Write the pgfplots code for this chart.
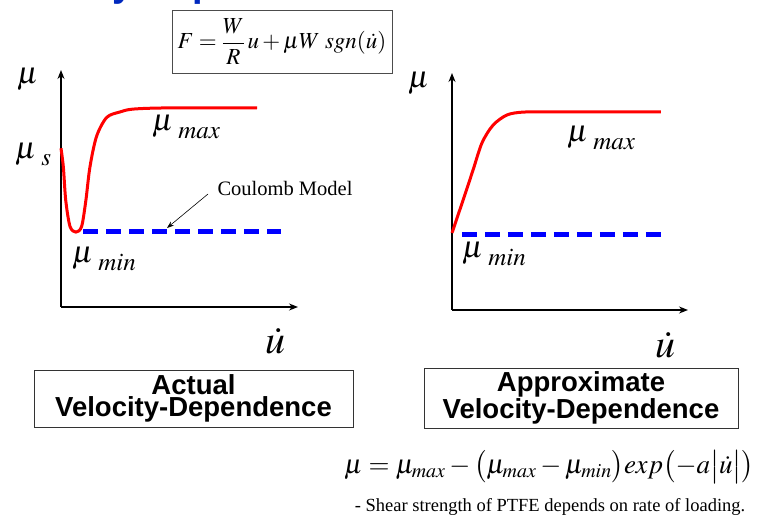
\documentclass[border=0pt]{standalone}
\usepackage{mathptmx}
\usepackage{fontspec}
\setmainfont{Liberation Serif}
\setsansfont{Liberation Sans}
\usepackage{pgfplots}
\pgfplotsset{compat=1.18}
\usetikzlibrary{arrows.meta}
\definecolor{headblue}{RGB}{0,40,190}
\newcommand{\mulab}[2][-8pt]{{\fontsize{31}{31}\selectfont$\mu$}\hspace{5pt}\raisebox{#1}{\fontsize{25}{25}\selectfont$#2$}}
\newcommand{\mubig}{{\fontsize{31}{31}\selectfont$\mu$}}
\newcommand{\udot}{{\fontsize{40}{40}\selectfont$\dot{u}$}}
\begin{document}
\begin{tikzpicture}
\useasboundingbox (0pt,0pt) rectangle (760pt,-518pt);
% cropped heading
\begin{scope}
\clip (0pt,0pt) rectangle (760pt,-7pt);
\node[anchor=base west, inner sep=0pt, text=headblue, font=\sffamily\bfseries\fontsize{38}{38}\selectfont] at (-10pt,3pt) {Velocity Dependence};
\end{scope}
% top formula box
\node[draw=black!70, line width=0.8pt, minimum width=220pt, minimum height=63pt, inner sep=0pt] at (282pt,-41.5pt)
  {\fontsize{23}{26}\selectfont $\displaystyle F=\frac{W}{R}\,u+\mu W\; sgn(\dot{u})$};

% ---------- left chart ----------
\begin{axis}[at={(61pt,-307pt)}, anchor=south west, scale only axis,
  width=237pt, height=237pt, xmin=0, xmax=10, ymin=0, ymax=1,
  axis lines=left, ticks=none, clip=false,
  axis line style={line width=1.3pt, -{Stealth[length=9pt,width=7pt]}}]
\addplot[blue, line width=5pt, dash pattern=on 15pt off 8pt] coordinates {(0.93,0.32) (9.3,0.32)};
\addplot[red, line width=3pt, smooth, tension=0.5] coordinates {
(0,0.67) (0.1,0.59) (0.2,0.45) (0.38,0.34) (0.63,0.316) (0.87,0.34) (1.05,0.45) (1.22,0.59) (1.5,0.72) (1.93,0.80) (2.49,0.823) (3.04,0.835) (4.5,0.84) (8.27,0.84)};
\end{axis}
\node[anchor=base west, inner sep=0pt] at (17pt,-84pt) {\mubig};
\node[anchor=base west, inner sep=0pt] at (15pt,-159pt) {\mulab[-7pt]{s}};
\node[anchor=base west, inner sep=0pt] at (152pt,-131pt) {\mulab{max}};
\node[anchor=base west, inner sep=0pt] at (72pt,-263pt) {\mulab{min}};
\node[anchor=center, inner sep=0pt, font=\fontsize{20.5}{20.5}\selectfont] at (285pt,-188pt) {Coulomb Model};
\draw[line width=0.6pt, -{Stealth[length=7pt,width=5pt]}] (208pt,-194pt) -- (167pt,-228pt);
\node[anchor=base west, inner sep=0pt] at (265pt,-354pt) {\udot};

% ---------- right chart ----------
\begin{axis}[at={(452pt,-310pt)}, anchor=south west, scale only axis,
  width=236pt, height=237pt, xmin=0, xmax=10, ymin=0, ymax=1,
  axis lines=left, ticks=none, clip=false,
  axis line style={line width=1.3pt, -{Stealth[length=9pt,width=7pt]}}]
\addplot[blue, line width=5pt, dash pattern=on 15pt off 8pt] coordinates {(0.42,0.32) (9.1,0.32)};
\addplot[red, line width=3pt, smooth, tension=0.5] coordinates {
(0,0.325) (0.47,0.464) (0.89,0.59) (1.27,0.705) (1.74,0.78) (2.33,0.823) (3.0,0.835) (4.0,0.836) (8.85,0.836)};
\end{axis}
\node[anchor=base west, inner sep=0pt] at (408pt,-88pt) {\mubig};
\node[anchor=base west, inner sep=0pt] at (567pt,-142pt) {\mulab{max}};
\node[anchor=base west, inner sep=0pt] at (462pt,-258pt) {\mulab{min}};
\node[anchor=base west, inner sep=0pt] at (655pt,-358pt) {\udot};

% ---------- caption boxes ----------
\node[draw=black!80, line width=0.8pt, minimum width=319pt, minimum height=57pt, inner sep=0pt, align=center,
  font=\sffamily\bfseries\fontsize{27.5}{22}\selectfont] at (193.5pt,-398.5pt) {Actual\\Velocity-Dependence};
\node[draw=black!80, line width=0.8pt, minimum width=314pt, minimum height=60pt, inner sep=0pt, align=center,
  font=\sffamily\bfseries\fontsize{27.5}{22}\selectfont] at (581pt,-398pt) {Approximate\\Velocity-Dependence};

% ---------- bottom formula ----------
\node[inner sep=0pt] at (549pt,-467pt) {\fontsize{27}{30}\selectfont
  $\mu=\mu_{max}-\bigl(\mu_{max}-\mu_{min}\bigr)exp\bigl(-a\bigl|\dot{u}\bigr|\bigr)$};
\node[inner sep=0pt, font=\fontsize{18.5}{18.5}\selectfont] at (550pt,-507pt) {- Shear strength of PTFE depends on rate of loading.};
\end{tikzpicture}
\end{document}
